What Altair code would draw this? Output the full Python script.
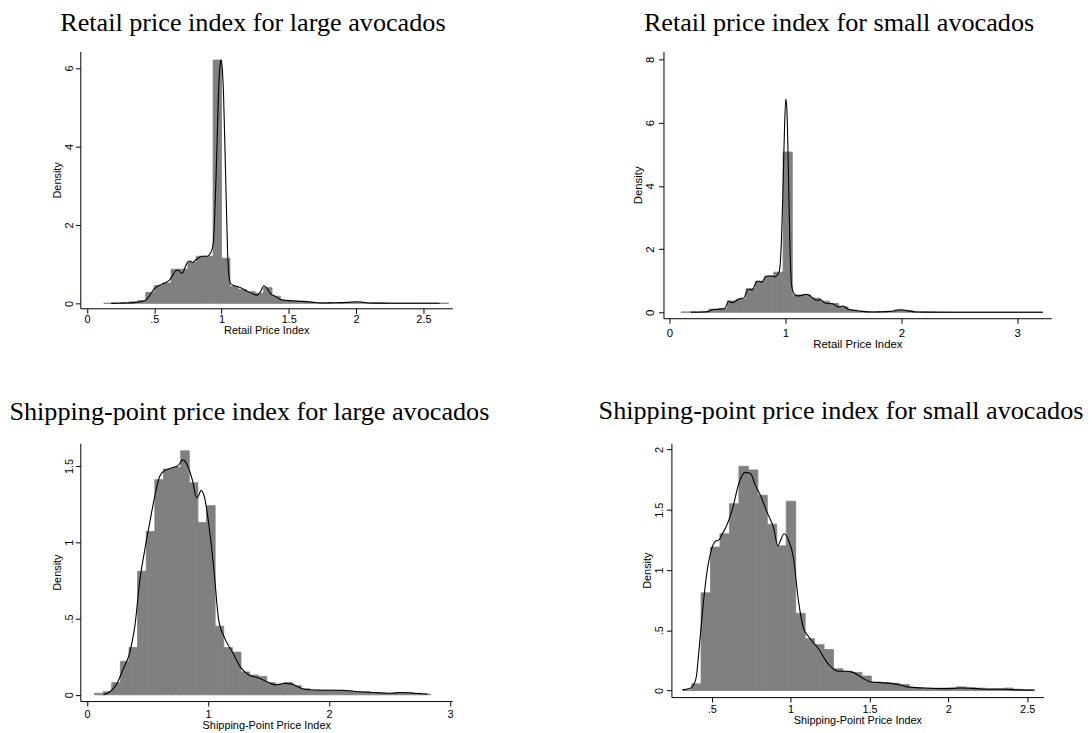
import altair as alt
import pandas as pd

# ---------------- data ----------------
# Retail, large avocados
TL_BIN_START = 0.125
TL_BIN_WIDTH = 0.0625
TL_HEIGHTS = [0.005, 0.01, 0.02, 0.04, 0.07, 0.28, 0.45, 0.52, 0.87, 0.87,
              1.04, 1.2, 1.2, 6.2, 1.15, 0.43, 0.35, 0.30, 0.26, 0.40,
              0.18, 0.08, 0.06, 0.05, 0.04, 0.02, 0.015, 0.01, 0.02, 0.03,
              0.03, 0.01, 0.01, 0.005, 0.005, 0.005, 0.005, 0.005, 0.005, 0.005, 0.005]
TL_KDE_X = [0.18, 0.25, 0.30, 0.35, 0.393, 0.42, 0.442, 0.46, 0.479, 0.50,
            0.516, 0.54, 0.565, 0.59, 0.614, 0.635, 0.651, 0.663, 0.675, 0.687,
            0.70, 0.712, 0.725, 0.74, 0.756, 0.77, 0.786, 0.80, 0.815, 0.835,
            0.855, 0.872, 0.896, 0.915, 0.93, 0.94, 0.95, 0.96, 0.97, 0.98,
            0.99, 0.997, 1.005, 1.015, 1.025, 1.035, 1.045, 1.055, 1.068, 1.085,
            1.105, 1.142, 1.179, 1.21, 1.24, 1.265, 1.29, 1.314, 1.338, 1.363,
            1.40, 1.437, 1.47, 1.50, 1.55, 1.60, 1.67, 1.73, 1.77, 1.83,
            1.89, 1.95, 2.01, 2.05, 2.09, 2.15, 2.26, 2.40, 2.50, 2.62]
TL_KDE_Y = [0.0, 0.005, 0.01, 0.02, 0.04, 0.06, 0.1, 0.17, 0.27, 0.37,
            0.42, 0.46, 0.5, 0.54, 0.6, 0.7, 0.8, 0.84, 0.85, 0.82,
            0.77, 0.78, 0.88, 1.0, 1.08, 1.07, 1.04, 1.08, 1.13, 1.17,
            1.2, 1.2, 1.2, 1.27, 1.38, 1.6, 2.3, 3.3, 4.5, 5.6,
            6.1, 6.2, 6.0, 5.3, 4.0, 2.6, 1.3, 0.7, 0.5, 0.46,
            0.44, 0.4, 0.33, 0.28, 0.23, 0.21, 0.3, 0.45, 0.38, 0.25,
            0.18, 0.1, 0.08, 0.07, 0.06, 0.05, 0.03, 0.01, 0.008, 0.015,
            0.02, 0.03, 0.04, 0.03, 0.01, 0.006, 0.005, 0.004, 0.004, 0.003]

# Retail, small avocados
TR_BIN_START = 0.10
TR_BIN_WIDTH = 0.08
TR_HEIGHTS = [0.01, 0.02, 0.03, 0.1, 0.12, 0.36, 0.42, 0.75, 0.98, 1.15,
              1.27, 5.07, 0.55, 0.55, 0.45, 0.35, 0.28, 0.17, 0.07, 0.03,
              0.02, 0.02, 0.03, 0.07, 0.05, 0.01, 0.01, 0.005, 0.005, 0.005,
              0.005, 0.005, 0.005, 0.005, 0.005, 0.005, 0.005, 0.005, 0.005]
TR_KDE_X = [0.185, 0.25, 0.30, 0.328, 0.35, 0.37, 0.40, 0.44, 0.47, 0.49,
            0.508, 0.525, 0.542, 0.57, 0.599, 0.62, 0.642, 0.66, 0.679, 0.695,
            0.713, 0.735, 0.756, 0.778, 0.798, 0.815, 0.833, 0.855, 0.878, 0.895,
            0.912, 0.93, 0.947, 0.957, 0.966, 0.975, 0.984, 0.993, 1.004, 1.013,
            1.022, 1.031, 1.04, 1.05, 1.061, 1.084, 1.105, 1.126, 1.155, 1.183,
            1.205, 1.226, 1.255, 1.275, 1.297, 1.32, 1.34, 1.37, 1.397, 1.425,
            1.454, 1.475, 1.497, 1.52, 1.54, 1.58, 1.625, 1.68, 1.74, 1.80,
            1.853, 1.90, 1.94, 1.97, 1.996, 2.02, 2.053, 2.1, 2.139, 2.2,
            2.424, 2.7, 3.0, 3.22]
TR_KDE_Y = [0.0, 0.003, 0.01, 0.02, 0.05, 0.08, 0.09, 0.1, 0.11, 0.2,
            0.35, 0.33, 0.3, 0.35, 0.42, 0.44, 0.45, 0.6, 0.72, 0.72,
            0.7, 0.85, 0.98, 0.98, 0.95, 1.05, 1.12, 1.15, 1.15, 1.13,
            1.12, 1.18, 1.3, 1.6, 2.3, 3.3, 4.6, 5.9, 6.75, 6.4,
            5.2, 3.5, 2.0, 1.0, 0.7, 0.55, 0.52, 0.52, 0.55, 0.57,
            0.54, 0.48, 0.4, 0.38, 0.4, 0.36, 0.3, 0.27, 0.28, 0.24,
            0.17, 0.18, 0.2, 0.15, 0.1, 0.07, 0.05, 0.02, 0.01, 0.012,
            0.02, 0.03, 0.05, 0.07, 0.08, 0.075, 0.05, 0.02, 0.01, 0.005,
            0.002, 0.002, 0.002, 0.001]

# Shipping-point, large avocados
BL_BIN_START = 0.0626
BL_BIN_WIDTH = 0.0712
BL_HEIGHTS = [0.01, 0.02, 0.08, 0.22, 0.31, 0.81, 1.07, 1.41, 1.48, 1.49,
              1.60, 1.39, 1.13, 1.24, 0.45, 0.31, 0.28, 0.15, 0.13, 0.12,
              0.08, 0.07, 0.08, 0.06, 0.04, 0.03, 0.03, 0.03, 0.03, 0.025,
              0.02, 0.02, 0.015, 0.01, 0.01, 0.015, 0.015, 0.01, 0.005]
BL_KDE_X = [0.137, 0.19, 0.246, 0.30, 0.355, 0.396, 0.437, 0.478, 0.519, 0.56,
            0.60, 0.642, 0.675, 0.71, 0.751, 0.792, 0.833, 0.874, 0.907, 0.925,
            0.943, 0.97, 1.01, 1.052, 1.087, 1.134, 1.202, 1.27, 1.339, 1.421,
            1.503, 1.557, 1.60, 1.639, 1.694, 1.75, 1.803, 1.967, 2.104, 2.24,
            2.377, 2.514, 2.596, 2.678, 2.814]
BL_KDE_Y = [0.0, 0.02, 0.07, 0.17, 0.28, 0.45, 0.75, 0.95, 1.13, 1.3,
            1.43, 1.47, 1.48, 1.49, 1.5, 1.54, 1.5, 1.4, 1.29, 1.31,
            1.34, 1.3, 1.1, 0.8, 0.5, 0.38, 0.28, 0.18, 0.13, 0.11,
            0.08, 0.065, 0.07, 0.075, 0.07, 0.05, 0.035, 0.03, 0.03, 0.02,
            0.015, 0.01, 0.015, 0.012, 0.005]

# Shipping-point, small avocados
BR_BIN_START = 0.312
BR_BIN_WIDTH = 0.06
BR_HEIGHTS = [0.005, 0.055, 0.81, 1.19, 1.30, 1.55, 1.86, 1.83, 1.62, 1.38,
              1.20, 1.57, 0.64, 0.43, 0.38, 0.34, 0.18, 0.16, 0.15, 0.12,
              0.07, 0.065, 0.06, 0.05, 0.025, 0.02, 0.02, 0.02, 0.02, 0.03,
              0.025, 0.02, 0.015, 0.015, 0.02, 0.01, 0.005]
BR_KDE_X = [0.316, 0.368, 0.40, 0.42, 0.441, 0.466, 0.494, 0.525, 0.546, 0.567,
            0.588, 0.63, 0.672, 0.71, 0.745, 0.777, 0.808, 0.85, 0.892, 0.919,
            0.934, 0.959, 0.986, 1.018, 1.049, 1.081, 1.112, 1.175, 1.238, 1.30,
            1.343, 1.395, 1.448, 1.51, 1.573, 1.657, 1.741, 1.846, 1.972, 2.077,
            2.182, 2.265, 2.349, 2.433, 2.548]
BR_KDE_Y = [0.005, 0.02, 0.1, 0.35, 0.65, 0.95, 1.15, 1.24, 1.25, 1.3,
            1.35, 1.5, 1.72, 1.81, 1.8, 1.7, 1.62, 1.48, 1.35, 1.2,
            1.24, 1.3, 1.25, 1.1, 0.75, 0.52, 0.45, 0.35, 0.22, 0.16,
            0.16, 0.15, 0.11, 0.07, 0.065, 0.055, 0.03, 0.02, 0.015, 0.02,
            0.015, 0.01, 0.01, 0.005, 0.003]

TITLES = ["Retail price index for large avocados",
          "Retail price index for small avocados",
          "Shipping-point price index for large avocados",
          "Shipping-point price index for small avocados"]
X_TITLES = ["Retail Price Index", "Retail Price Index",
            "Shipping-Point Price Index", "Shipping-Point Price Index"]
Y_TITLE = "Density"
TL_XTICKS = [0, 0.5, 1, 1.5, 2, 2.5]
TR_XTICKS = [0, 1, 2, 3]
BL_XTICKS = [0, 1, 2, 3]
BR_XTICKS = [0.5, 1, 1.5, 2, 2.5]
TL_YTICKS = [0, 2, 4, 6]
TR_YTICKS = [0, 2, 4, 6, 8]
BL_YTICKS = [0, 0.5, 1, 1.5]
BR_YTICKS = [0, 0.5, 1, 1.5, 2]

GRAY = "#808080"
SERIF = "Liberation Serif"
SANS = "Liberation Sans"


def hist_frame(start, width, heights):
    n = len(heights)
    return pd.DataFrame({
        "x0": [start + i * width for i in range(n)],
        "x1": [start + (i + 1) * width for i in range(n)],
        "h": heights,
        "base": [0.0] * n,
    })


def panel(title, xtitle, hist, kx, ky, xdom, ydom, xticks, yticks, w, h,
          dx, offset, xlp=0, xtp=0, ylp=1, ytp=1, fs=11, inset=0):
    if inset:
        xs = alt.Scale(domain=xdom, range=[inset, w], nice=False, zero=False)
    else:
        xs = alt.Scale(domain=xdom, nice=False, zero=False)
    ys = alt.Scale(domain=ydom, nice=False, zero=False)
    xaxis = alt.Axis(values=xticks, title=xtitle, format="~g",
                     labelExpr="replace(datum.label, '0.', '.')",
                     labelPadding=xlp, titlePadding=xtp, labelFlush=False,
                     labelOverlap=False, labelFontSize=fs, titleFontSize=fs)
    yaxis = alt.Axis(values=yticks, title=Y_TITLE, format="~g",
                     labelExpr="replace(datum.label, '0.', '.')",
                     labelAngle=270, labelAlign="center", labelBaseline="bottom",
                     labelPadding=ylp, titlePadding=ytp, labelFlush=False,
                     labelOverlap=False, labelFontSize=fs, titleFontSize=fs,
                     offset=-inset)
    bars = alt.Chart(hist).mark_rect(color=GRAY, stroke=GRAY, strokeWidth=0.8).encode(
        x=alt.X("x0:Q", scale=xs, axis=xaxis),
        x2="x1:Q",
        y=alt.Y("h:Q", scale=ys, axis=yaxis),
        y2="base:Q",
    )
    kde = pd.DataFrame({"x0": kx, "h": ky})
    line = alt.Chart(kde).mark_line(color="black", strokeWidth=1.1,
                                    interpolate="monotone").encode(
        x=alt.X("x0:Q", scale=xs, axis=xaxis),
        y=alt.Y("h:Q", scale=ys, axis=yaxis),
    )
    return alt.layer(bars, line).properties(
        width=w, height=h,
        title=alt.TitleParams(text=title, font=SERIF, fontSize=26.4,
                              fontWeight="normal", color="black",
                              anchor="middle", dx=dx, offset=offset,
                              baseline="top", frame="group"),
    )


tl = panel(TITLES[0], X_TITLES[0], hist_frame(TL_BIN_START, TL_BIN_WIDTH, TL_HEIGHTS),
           TL_KDE_X, TL_KDE_Y, [-0.0494, 2.714], [-0.126, 6.419],
           TL_XTICKS, TL_YTICKS, 375, 259, dx=-13.5, offset=14.8,
           xlp=0, xtp=0, ylp=1, ytp=1)
tr = panel(TITLES[1], X_TITLES[1], hist_frame(TR_BIN_START, TR_BIN_WIDTH, TR_HEIGHTS),
           TR_KDE_X, TR_KDE_Y, [-0.0513, 3.293], [-0.188, 8.251],
           TR_XTICKS, TR_YTICKS, 391, 269, dx=-18.5, offset=14.8,
           xlp=4, xtp=0, ylp=3, ytp=1, fs=11.5)
bl = panel(TITLES[2], X_TITLES[2], hist_frame(BL_BIN_START, BL_BIN_WIDTH, BL_HEIGHTS),
           BL_KDE_X, BL_KDE_Y, [-0.0549, 3.019], [-0.041, 1.6495],
           BL_XTICKS, BL_YTICKS, 375, 260, dx=-17, offset=17.6,
           xlp=3, xtp=0, ylp=1, ytp=1)
br = panel(TITLES[3], X_TITLES[3], hist_frame(BR_BIN_START, BR_BIN_WIDTH, BR_HEIGHTS),
           BR_KDE_X, BR_KDE_Y, [0.244, 2.6025], [-0.055, 2.052],
           BR_XTICKS, BR_YTICKS, 383, 256, dx=-12.5, offset=18.6,
           xlp=2, xtp=0, ylp=2, ytp=1, inset=8)

chart = alt.concat(
    tl, tr, bl, br, columns=2,
    spacing={"row": 126, "column": 213},
    align="each",
    bounds="flush",
).configure(
    padding={"left": 0.9, "top": -1.2, "right": 0, "bottom": 0},
    background="white",
).configure_view(
    stroke=None,
).configure_axis(
    grid=False, domainColor="black", tickColor="black", labelColor="black",
    titleColor="black", labelFont=SANS, titleFont=SANS, titleFontWeight="normal",
    tickSize=5, domainWidth=1, tickWidth=1,
)

chart.save("out.html", embed_options={"renderer": "svg", "actions": False})
